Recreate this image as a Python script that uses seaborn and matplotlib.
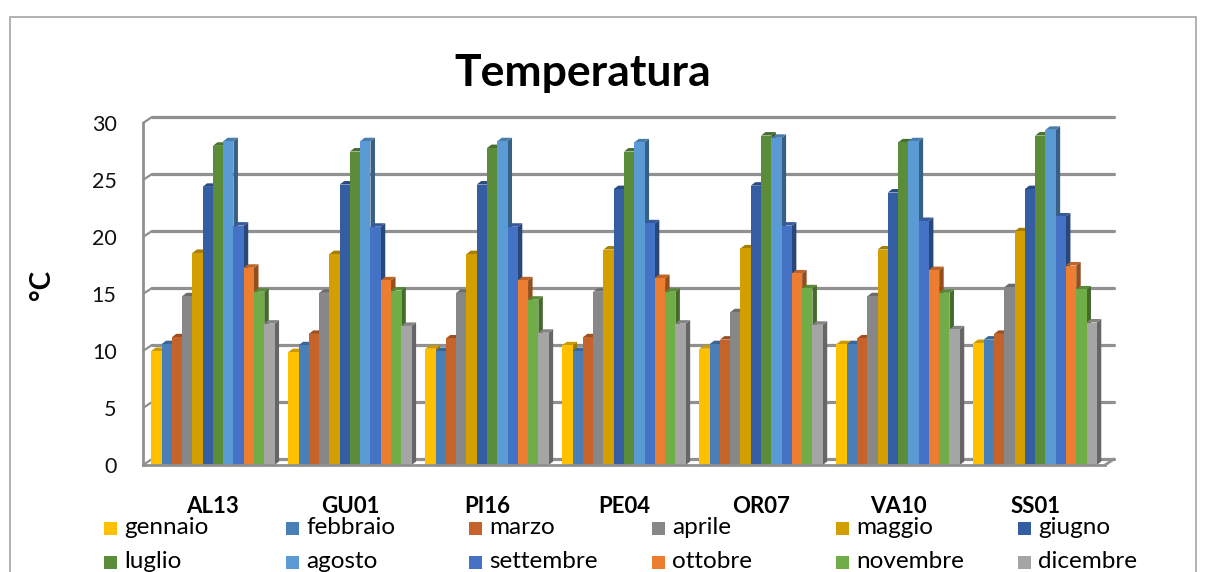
import matplotlib
matplotlib.use("Agg")
import numpy as np
import pandas as pd
import seaborn as sns
import matplotlib.pyplot as plt
import matplotlib.colors as mcolors
from matplotlib.patches import Polygon, Rectangle
from matplotlib.lines import Line2D

# ---- data -------------------------------------------------------------
stazioni = ["AL13", "GU01", "PI16", "PE04", "OR07", "VA10", "SS01"]
mesi = ["gennaio", "febbraio", "marzo", "aprile", "maggio", "giugno",
        "luglio", "agosto", "settembre", "ottobre", "novembre", "dicembre"]

al13 = [10.0, 10.6, 11.2, 14.8, 18.6, 24.4, 28.0, 28.4, 21.0, 17.3, 15.2, 12.4]
gu01 = [9.9, 10.5, 11.5, 15.1, 18.5, 24.6, 27.5, 28.4, 20.9, 16.2, 15.3, 12.2]
pi16 = [10.2, 10.0, 11.1, 15.1, 18.5, 24.6, 27.8, 28.4, 20.9, 16.2, 14.5, 11.6]
pe04 = [10.5, 10.0, 11.2, 15.2, 18.9, 24.2, 27.5, 28.3, 21.2, 16.4, 15.2, 12.4]
or07 = [10.2, 10.6, 11.0, 13.4, 19.0, 24.5, 28.9, 28.7, 21.0, 16.8, 15.5, 12.3]
va10 = [10.6, 10.6, 11.1, 14.8, 18.9, 23.9, 28.3, 28.4, 21.4, 17.1, 15.1, 11.9]
ss01 = [10.7, 11.0, 11.5, 15.6, 20.5, 24.2, 28.9, 29.4, 21.8, 17.5, 15.4, 12.5]

valori = [al13, gu01, pi16, pe04, or07, va10, ss01]
y_ticks = [0, 5, 10, 15, 20, 25, 30]

colori = ["#FFC000", "#4A7EB6", "#C5632B", "#878787", "#D29E00", "#355DA1",
          "#5B8C3A", "#5B9BD5", "#4472C4", "#ED7D31", "#70AD47", "#A5A5A5"]

df = pd.DataFrame(
    [(s, m, v) for s, vals in zip(stazioni, valori) for m, v in zip(mesi, vals)],
    columns=["stazione", "mese", "temperatura"],
)

# ---- figure -----------------------------------------------------------
W, H = 1206, 572
sns.set_style("white")
plt.rcParams["font.family"] = ["Lato", "DejaVu Sans"]

fig = plt.figure(figsize=(W / 100, H / 100), dpi=100)
fig.patch.set_facecolor("white")

x0_px, x1_px, y0_px, y1_px = 143, 1105, 465, 123
ax = fig.add_axes([x0_px / W, (H - y0_px) / H, (x1_px - x0_px) / W, (y0_px - y1_px) / H])
ax.set_facecolor("none")

sns.barplot(data=df, x="stazione", y="temperatura", hue="mese",
            order=stazioni, hue_order=mesi, palette=colori, width=0.9,
            saturation=1, legend=False, errorbar=None, linewidth=0,
            edgecolor="none", ax=ax, zorder=3)

xmin, xmax = -0.51, 6.51
ax.set_xlim(xmin, xmax)
ax.set_ylim(0, 30)

# pixel -> data unit conversion for the depth effect
px_x = (x1_px - x0_px) / (xmax - xmin)
px_y = (y0_px - y1_px) / 30.0
DX, DY = 9 / px_x, 6 / px_y           # depth of the back wall
bx, by = 4.5 / px_x, 3.5 / px_y       # depth of each column

grid_col = "#909090"

# back wall gridlines with connectors to the front axis
for v in y_ticks:
    ax.add_line(Line2D([xmin + DX, xmax + DX], [v + DY, v + DY], color=grid_col,
                       lw=2.3, zorder=1, clip_on=False))
    ax.add_line(Line2D([xmin, xmin + DX], [v, v + DY], color=grid_col,
                       lw=1.6, zorder=1, clip_on=False))
# floor edge on the right
ax.add_line(Line2D([xmax, xmax + DX], [0, DY], color=grid_col, lw=2.0,
                   zorder=1, clip_on=False))

# depth faces of the columns
for p in list(ax.patches):
    x0 = p.get_x()
    w = p.get_width()
    h = p.get_height()
    if not np.isfinite(h) or h <= 0:
        continue
    x1 = x0 + w
    c = np.array(mcolors.to_rgb(p.get_facecolor()))
    side = tuple(c * 0.62)
    top = tuple(c * 0.80)
    ax.add_patch(Polygon([(x1, 0), (x1, h), (x1 + bx, h + by), (x1 + bx, by)],
                         closed=True, facecolor=side, edgecolor="none",
                         zorder=2.5, clip_on=False))
    ax.add_patch(Polygon([(x0, h), (x1, h), (x1 + bx, h + by), (x0 + bx, h + by)],
                         closed=True, facecolor=top, edgecolor="none",
                         zorder=2.5, clip_on=False))

# axes styling
for s in ["top", "right"]:
    ax.spines[s].set_visible(False)
for s in ["left", "bottom"]:
    ax.spines[s].set_color(grid_col)
    ax.spines[s].set_linewidth(2.0)
    ax.spines[s].set_zorder(4)

ax.set_yticks(y_ticks)
ax.set_yticklabels([str(v) for v in y_ticks], fontsize=15.5, color="#111111")
ax.tick_params(axis="y", length=7, width=1.6, color=grid_col, pad=12)

ax.set_xticks(range(len(stazioni)))
ax.set_xticklabels(stazioni, fontsize=16, fontweight="bold", color="black")
ax.set_xticks(np.arange(-0.5, len(stazioni), 1.0), minor=True)
ax.tick_params(axis="x", which="major", length=0, pad=22)
ax.tick_params(axis="x", which="minor", length=7, width=1.6, color=grid_col)
ax.set_xlabel("")
ax.set_ylabel("")
ax.grid(False)

# titles
fig.text(583 / W, 1 - 73 / H, "Temperatura", ha="center", va="center",
         fontsize=32, fontweight="bold", color="black")
fig.text(42 / W, 1 - 285 / H, "°C", ha="center", va="center", rotation=90,
         fontsize=20, fontweight="bold", color="black")

# legend laid out in two rows of six entries
col_x = [104, 286, 469, 652, 836, 1018]
row_y = [528, 562]
for i, (m, c) in enumerate(zip(mesi, colori)):
    xm = col_x[i % 6]
    yc = row_y[i // 6]
    fig.patches.append(Rectangle((xm / W, (H - yc - 6.5) / H), 13 / W, 13 / H,
                                 transform=fig.transFigure, facecolor=c,
                                 edgecolor="none"))
    fig.text((xm + 20) / W, (H - yc) / H, m, ha="left", va="center",
             fontsize=17.5, color="black")

# chart area border
fig.patches.append(Rectangle((10 / W, -0.05), (1196 - 10) / W, (H - 17) / H + 0.05,
                             transform=fig.transFigure, facecolor="none",
                             edgecolor="#ABABAB", linewidth=1.3))

fig.savefig("out.png", dpi=100, facecolor="white")
